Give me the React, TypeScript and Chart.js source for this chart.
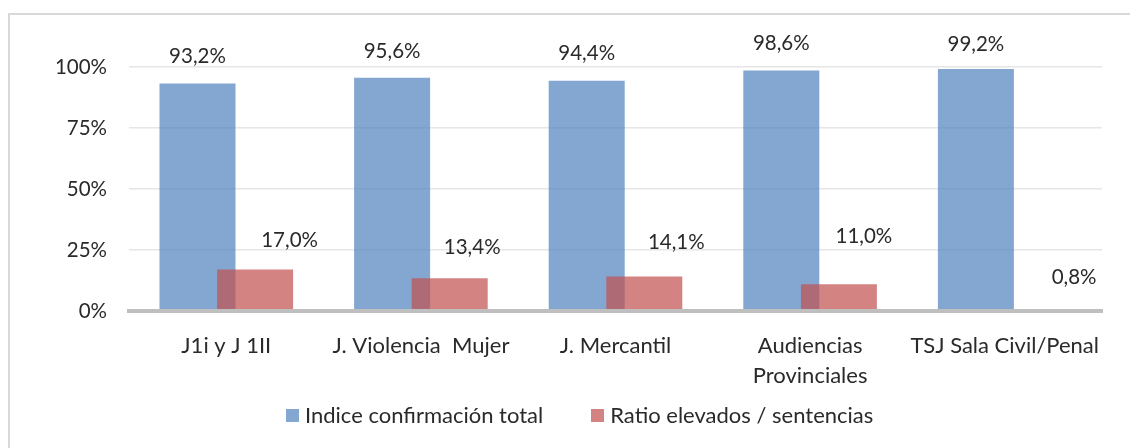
import React, { useEffect, useRef } from 'react';
import { Chart, registerables } from 'chart.js';

Chart.register(...registerables);

// ---- data ----
const CATEGORIES: (string | string[])[] = [
  'J1i y J 1II',
  'J. Violencia  Mujer',
  'J. Mercantil',
  ['Audiencias', 'Provinciales'],
  'TSJ Sala Civil/Penal',
];
const SERIES_NAMES = ['Indice confirmación total', 'Ratio elevados / sentencias'];
const CONFIRMACION = [93.2, 95.6, 94.4, 98.6, 99.2];
const RATIO = [17.0, 13.4, 14.1, 11.0, 0.8];
const Y_TICKS = [0, 25, 50, 75, 100];

// ---- style ----
const FONT = 'Lato, "Noto Sans", sans-serif';
const NUM_SIZE = 20.5;
const TEXT_SIZE = 22;
const TEXT = '#2a2a2a';
const BLUE = 'rgba(79,129,189,0.7)';
const RED = 'rgba(192,80,77,0.7)';
const GROUP_SHIFT = 0.148; // half distance between bar centres, in category units
const LABEL_GAP = 27;
// per-label nudges [dx, dy] (label placement as in the original)
const LABEL_NUDGE: number[][][] = [
  [[0, 0], [0, 0.5], [0, -0.7], [0, 0], [0, 2.5]],
  [[34.5, -2.5], [22.5, -4], [32, -7], [25, -21], [40.6, -5]],
];

const fmt = (v: number) => v.toFixed(1).replace('.', ',') + '%';

const valueLabels = {
  id: 'valueLabels',
  afterDatasetsDraw(chart: any) {
    const ctx = chart.ctx;
    ctx.save();
    ctx.font = `${NUM_SIZE}px ${FONT}`;
    ctx.fillStyle = TEXT;
    ctx.textAlign = 'center';
    ctx.textBaseline = 'middle';
    chart.data.datasets.forEach((ds: any, di: number) => {
      const meta = chart.getDatasetMeta(di);
      meta.data.forEach((bar: any, i: number) => {
        const [dx, dy] = LABEL_NUDGE[di][i];
        ctx.fillText(fmt(ds.data[i].y), bar.x + dx, bar.y - LABEL_GAP + dy);
      });
    });
    ctx.restore();
  },
};

export default function App() {
  const ref = useRef<HTMLCanvasElement | null>(null);

  useEffect(() => {
    if (!ref.current) return;
    const chart = new Chart(ref.current, {
      type: 'bar',
      data: {
        datasets: [
          {
            label: SERIES_NAMES[0],
            data: CONFIRMACION.map((v, i) => ({ x: i + 0.5 - GROUP_SHIFT, y: v })),
            backgroundColor: BLUE,
            order: 1,
          },
          {
            label: SERIES_NAMES[1],
            data: RATIO.map((v, i) => ({ x: i + 0.5 + GROUP_SHIFT, y: v })),
            backgroundColor: RED,
            order: 0,
          },
        ],
      },
      options: {
        responsive: false,
        animation: false,
        devicePixelRatio: 1,
        layout: { padding: { left: 0, right: 28, top: 67, bottom: 57 } },
        datasets: {
          bar: {
            grouped: false,
            categoryPercentage: 1,
            barPercentage: 1.6,
            maxBarThickness: 76,
          },
        },
        plugins: {
          legend: { display: false },
          tooltip: { enabled: false },
        },
        scales: {
          x: {
            type: 'linear',
            min: 0,
            max: CATEGORIES.length,
            offset: false,
            grid: { display: false, drawTicks: false },
            border: { display: true, color: '#bfbfbf', width: 4, z: 1 },
            afterBuildTicks: (scale: any) => {
              scale.ticks = CATEGORIES.map((_, i) => ({ value: i + 0.5 }));
            },
            afterFit: (scale: any) => {
              scale.height = 80;
            },
            ticks: {
              autoSkip: false,
              maxRotation: 0,
              minRotation: 0,
              padding: 20,
              color: TEXT,
              font: { family: FONT, size: TEXT_SIZE, lineHeight: 1.36 },
              callback: (_v: any, i: number) => CATEGORIES[i],
            },
          },
          y: {
            min: 0,
            max: 100,
            afterBuildTicks: (scale: any) => {
              scale.ticks = Y_TICKS.map((v) => ({ value: v }));
            },
            afterFit: (scale: any) => {
              scale.width = 129;
            },
            grid: { color: '#e6e6e6', lineWidth: 1.5, drawTicks: false },
            border: { display: false },
            ticks: {
              padding: 22,
              color: TEXT,
              font: { family: FONT, size: NUM_SIZE },
              callback: (v: any) => v + '%',
            },
          },
        },
      },
      plugins: [valueLabels],
    } as any);
    return () => chart.destroy();
  }, []);

  return (
    <div
      style={{
        position: 'fixed',
        left: 0,
        top: 0,
        width: 1130,
        height: 448,
        background: '#fff',
        overflow: 'hidden',
      }}
    >
      <div
        style={{
          position: 'absolute',
          left: 8,
          top: 13,
          width: 1200,
          height: 500,
          border: '2px solid #d9d9d9',
          boxSizing: 'border-box',
        }}
      />
      <canvas
        ref={ref}
        width={1130}
        height={448}
        style={{ position: 'absolute', left: 0, top: 0, width: 1130, height: 448 }}
      />
      <div
        style={{
          position: 'absolute',
          left: 286,
          top: 402,
          display: 'flex',
          alignItems: 'center',
          fontFamily: FONT,
          fontSize: TEXT_SIZE,
          color: TEXT,
          lineHeight: '26px',
          whiteSpace: 'nowrap',
        }}
      >
        {SERIES_NAMES.map((name, i) => (
          <div key={name} style={{ display: 'flex', alignItems: 'center', marginRight: i === 0 ? 48 : 0 }}>
            <span
              style={{
                display: 'inline-block',
                width: 13,
                height: 13,
                background: i === 0 ? BLUE : RED,
                marginRight: 6,
              }}
            />
            <span>{name}</span>
          </div>
        ))}
      </div>
    </div>
  );
}
